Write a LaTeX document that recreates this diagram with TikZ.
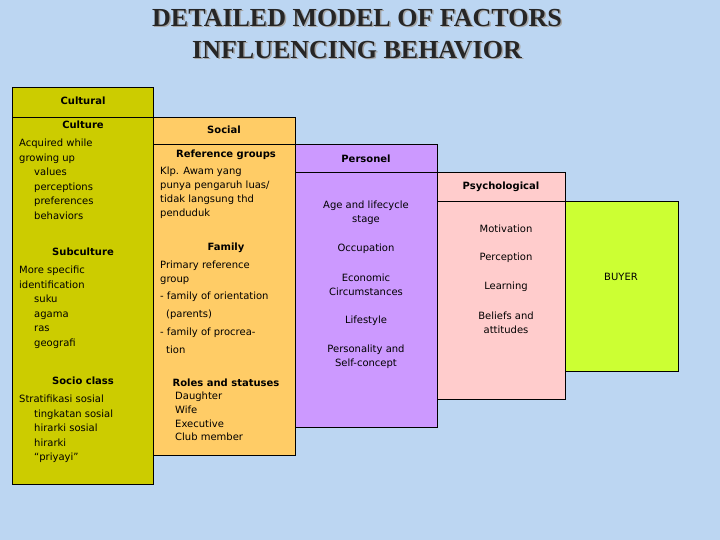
\documentclass[tikz,border=0pt]{standalone}
\usepackage{fontspec}
\setmainfont{DejaVu Sans}
\newfontfamily\titlefont{Liberation Serif}
\definecolor{bgc}{HTML}{BCD6F2}
\definecolor{cult}{HTML}{CCCC00}
\definecolor{soc}{HTML}{FFCC66}
\definecolor{pers}{HTML}{CC99FF}
\definecolor{psy}{HTML}{FFCCCC}
\definecolor{buy}{HTML}{CCFF33}
\tikzset{
  panel/.style={draw=black, line width=0.8pt},
  hd/.style={font=\fontsize{10}{12}\selectfont\bfseries, inner sep=0pt},
  tx/.style={font=\fontsize{10}{14.5}\selectfont, inner sep=0pt, align=left, anchor=north west},
  ct/.style={font=\fontsize{10}{14}\selectfont, inner sep=0pt, align=center},
}
\begin{document}
\begin{tikzpicture}[x=1pt,y=-1pt]
\fill[bgc] (0,0) rectangle (720,540);
\useasboundingbox (0,0) rectangle (720,540);
% title
\foreach \dx/\c in {1.5/gray!70, 0/black!85}{
  \node[font=\titlefont\fontsize{26}{32}\selectfont\bfseries, align=center, text=\c, inner sep=0pt] at (357+\dx,34+\dx) {DETAILED MODEL OF FACTORS\\INFLUENCING BEHAVIOR};
}
% boxes
\draw[panel, fill=cult] (12,87) rectangle (153,484);
\draw[panel] (12,117) -- (153,117);
\draw[panel, fill=soc] (153,117) rectangle (295,455);
\draw[panel] (153,144) -- (295,144);
\draw[panel, fill=pers] (295,144) rectangle (437,427);
\draw[panel] (295,172) -- (437,172);
\draw[panel, fill=psy] (437,172) rectangle (565,399);
\draw[panel] (437,201) -- (565,201);
\draw[panel, fill=buy] (565,201) rectangle (678,371);
% cultural
\node[hd] (cultural) at (83,101) {Cultural};
\node[hd] (culture) at (83,125) {Culture};
\node[tx] (culturet) at (19,139) {Acquired while\\growing up\\\hspace{15pt}values\\\hspace{15pt}perceptions\\\hspace{15pt}preferences\\\hspace{15pt}behaviors};
\node[hd] (subc) at (83,252) {Subculture};
\node[tx] (subct) at (19,266) {More specific\\identification\\\hspace{15pt}suku\\\hspace{15pt}agama\\\hspace{15pt}ras\\\hspace{15pt}geografi};
\node[hd] (socio) at (83,381) {Socio class};
\node[tx] (sociot) at (19,395) {Stratifikasi sosial\\\hspace{15pt}tingkatan sosial\\\hspace{15pt}hirarki sosial\\\hspace{15pt}hirarki\\\hspace{15pt}“priyayi”};
% social
\node[hd] (social) at (224,130) {Social};
\node[hd] (refg) at (226,155) {Reference groups};
\node[tx, font=\fontsize{10}{14}\selectfont] (refgt) at (160,167) {Klp. Awam yang\\punya pengaruh luas/\\tidak langsung thd\\penduduk};
\node[hd] (fam) at (226,248) {Family};
\node[tx, font=\fontsize{10}{14}\selectfont] (famt1) at (160,261) {Primary reference\\group};
\node[tx, font=\fontsize{10}{18}\selectfont] (famt2) at (160,292) {- family of orientation\\\hspace{6pt}(parents)\\- family of procrea-\\\hspace{6pt}tion};
\node[hd] (roles) at (226,383) {Roles and statuses};
\node[tx, font=\fontsize{10}{13.6}\selectfont] (rolest) at (175,392) {Daughter\\Wife\\Executive\\Club member};
% personel
\node[hd] (personel) at (366,159) {Personel};
\node[ct] (age) at (366,213) {Age and lifecycle\\stage};
\node[ct] (occ) at (366,249) {Occupation};
\node[ct] (eco) at (366,285) {Economic\\Circumstances};
\node[ct] (life) at (366,321) {Lifestyle};
\node[ct] (pers) at (366,357) {Personality and\\Self-concept};
% psychological
\node[hd] (psych) at (501,187) {Psychological};
\node[ct] (mot) at (506,229) {Motivation};
\node[ct] (perc) at (506,258) {Perception};
\node[ct] (learn) at (506,287) {Learning};
\node[ct] (bel) at (506,323) {Beliefs and\\attitudes};
% buyer
\node[ct] (buyer) at (621,277) {BUYER};
\end{tikzpicture}
\end{document}
